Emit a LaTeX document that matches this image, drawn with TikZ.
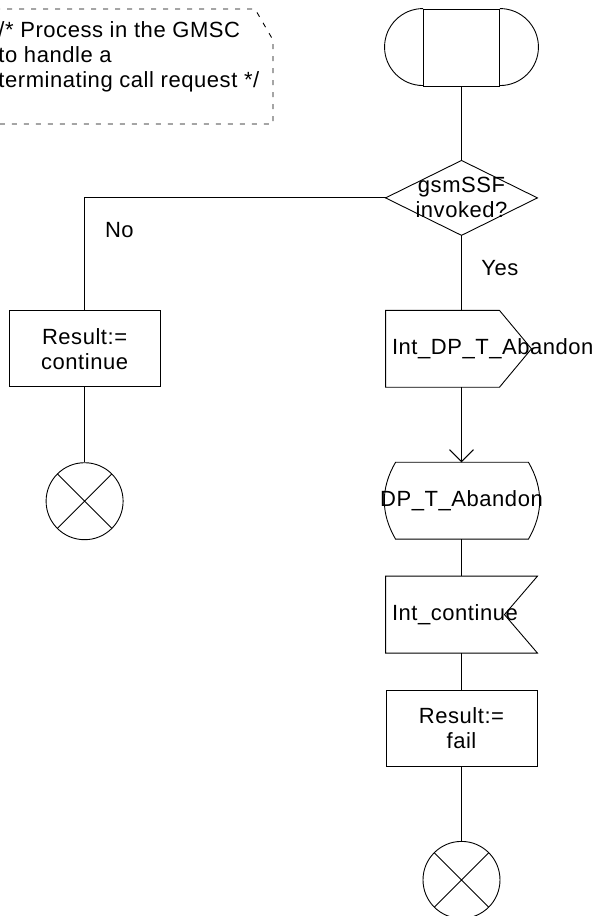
\documentclass[tikz,border=0pt]{standalone}
\usepackage{fontspec}
\setmainfont[LetterSpace=2.5]{Liberation Sans}
\usepackage{tikz}
\usetikzlibrary{arrows.meta, positioning, calc}
\tikzstyle{sdlbox} = [rectangle, minimum width=151pt, minimum height=76pt, inner sep=0pt, align=center]
\tikzstyle{task} = [sdlbox, draw]
\tikzstyle{decision} = [sdlbox, minimum height=74pt]
\tikzstyle{signal} = [sdlbox, text width=139pt, align=left]
\tikzstyle{startbox} = [rectangle, draw, minimum width=76pt, minimum height=77pt, inner sep=0pt]
\tikzstyle{stop} = [circle, draw, minimum size=77pt, inner sep=0pt, path picture={\draw (path picture bounding box.north west) -- (path picture bounding box.south east) (path picture bounding box.north east) -- (path picture bounding box.south west);}]
\tikzstyle{note} = [dash pattern=on 5pt off 7pt]
\tikzstyle{arrow} = [-{Straight Barb[length=12pt, width=24pt]}]

\begin{document}
\begin{tikzpicture}[x=1pt, y=1pt, line width=0.9pt, every node/.style={font=\fontsize{22}{25}\selectfont}]
    \useasboundingbox (0,0) rectangle (600,-916);

    % comment
    \draw[note] (-5,-9) -- (255,-9) -- (273,-40) -- (273,-124) -- (-5,-124);
    \node[anchor=north west, align=left, inner sep=0pt] (comment) at (-2,-21) {/* Process in the GMSC\\to handle a\\terminating call request */};

    \node[startbox] (start) at (461.5,-47.5) {};
    \node[decision, below=74pt of start] (gsmssf) {gsmSSF\\invoked?};
    \node[signal, below=75pt of gsmssf] (intdp) {\rlap{Int\_DP\_T\_Abandon}};
    \node[sdlbox, below=75pt of intdp] (dpt) {\makebox[0pt]{DP\_T\_Abandon}};
    \node[signal, below=37pt of dpt] (intcont) {\rlap{Int\_continue}};
    \node[task, below=37pt of intcont] (resfail) {Result:=\\fail};
    \node[stop, below=74pt of resfail] (stopfail) {};
    \node[task, left=225pt of intdp] (rescont) {Result:=\\continue};
    \node[stop, below=75pt of rescont] (stopcont) {};

    % outlines
    \draw (start.north west) arc[start angle=90, end angle=270, radius=38.5pt];
    \draw (start.north east) arc[start angle=90, end angle=-90, radius=38.5pt];
    \draw (gsmssf.north) -- (gsmssf.east) -- (gsmssf.south) -- (gsmssf.west) -- cycle;
    \draw (intdp.north west) -- ([xshift=-38pt]intdp.north east) -- ([xshift=-6pt]intdp.east) -- ([xshift=-38pt]intdp.south east) -- (intdp.south west) -- cycle;
    \draw ([xshift=10pt]dpt.north west) -- ([xshift=-9pt]dpt.north east) to[out=-60, in=60] ([xshift=-9pt]dpt.south east) -- ([xshift=10pt]dpt.south west) to[out=120, in=-120] ([xshift=10pt]dpt.north west) -- cycle;
    \draw (intcont.north west) -- (intcont.north east) -- ([xshift=-33pt]intcont.east) -- (intcont.south east) -- (intcont.south west) -- cycle;

    \draw (start) -- (gsmssf);
    \draw (gsmssf.west) -| node[pos=0.643, anchor=west, xshift=20pt, inner sep=0pt] (nolabel) {No} (rescont.north);
    \draw (gsmssf) -- node[pos=0.44, anchor=west, xshift=19.5pt, inner sep=0pt] (yeslabel) {Yes} (intdp);
    \draw[arrow] (intdp) -- (dpt);
    \draw (dpt) -- (intcont);
    \draw (intcont) -- (resfail);
    \draw (resfail) -- (stopfail);
    \draw (rescont) -- (stopcont);
\end{tikzpicture}
\end{document}
